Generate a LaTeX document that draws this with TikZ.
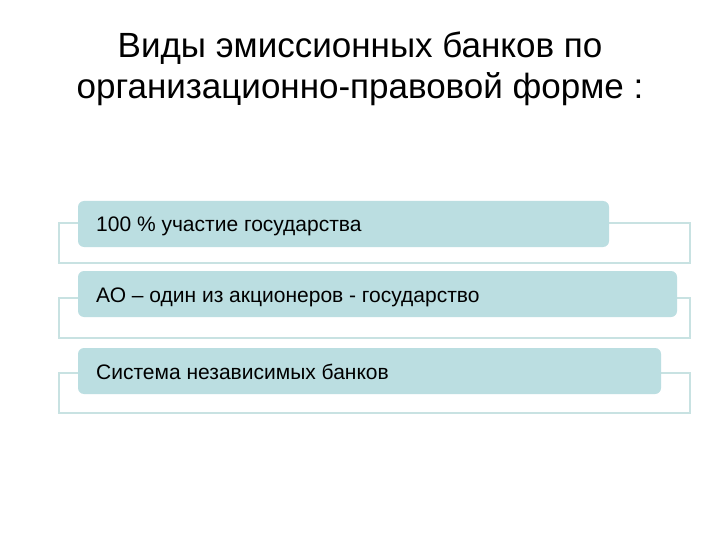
\documentclass[tikz,border=0pt]{standalone}
\usepackage{fontspec}
\setmainfont{Liberation Sans}
\definecolor{boxfill}{RGB}{187,222,225}
\definecolor{bracket}{RGB}{200,226,226}
\begin{document}
\begin{tikzpicture}[x=1pt,y=-1pt,
  brack/.style={draw=bracket,line width=1.5pt},
  item/.style={fill=boxfill,rounded corners=6pt},
  itemtext/.style={anchor=base west,inner sep=0pt,font=\fontsize{21}{24}\selectfont},
  title/.style={anchor=base,inner sep=0pt,font=\fontsize{35}{42}\selectfont}]
\useasboundingbox (0,0) rectangle (720,540);
\fill[white] (0,0) rectangle (720,540);
\node[title] (t1) at (360,58) {Виды эмиссионных банков по};
\node[title] (t2) at (360,99) {организационно-правовой форме :};
% brackets
\draw[brack] (59,223) rectangle (690,263);
\draw[brack] (59,298) rectangle (690,338);
\draw[brack] (59,373) rectangle (690,413);
% boxes
\fill[item] (78,201) rectangle (609,247);
\fill[item] (78,271) rectangle (677,317);
\fill[item] (78,348) rectangle (661,394);
\node[itemtext] (a) at (96,232) {100 \% участие государства};
\node[itemtext] (b) at (96,302) {АО – один из акционеров - государство};
\node[itemtext] (c) at (96,379) {Система независимых банков};
\end{tikzpicture}
\end{document}
